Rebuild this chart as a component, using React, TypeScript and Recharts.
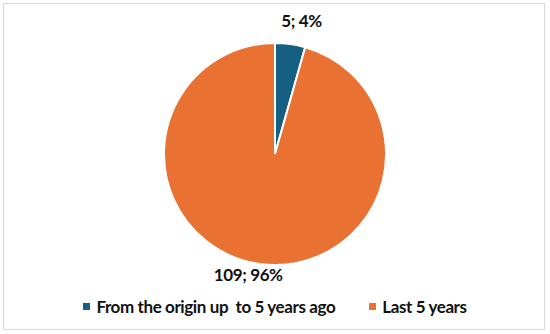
import { PieChart, Pie, Cell, Legend } from 'recharts';

const categories = ['From the origin up  to 5 years ago', 'Last 5 years'];
const counts = [5, 109];
const percentLabels = ['4%', '96%'];
const colors = ['#156082', '#E97132'];

const data = categories.map((name, i) => ({ name, value: counts[i], pct: percentLabels[i] }));

const RADIAN = Math.PI / 180;

const renderLabel = (props: any) => {
  const { cx, cy, midAngle, outerRadius, index } = props;
  const r = outerRadius + (index === 0 ? 24 : 11);
  const x = cx + r * Math.cos(-midAngle * RADIAN) + (index === 0 ? 8 : -10);
  const y = cy + r * Math.sin(-midAngle * RADIAN);
  return (
    <text x={x} y={y} textAnchor="middle" dominantBaseline="central" fill="#111"
      fontSize={17} fontWeight={700} letterSpacing={-0.4} fontFamily="Lato, sans-serif">
      {`${data[index].value}; ${data[index].pct}`}
    </text>
  );
};

const renderLegend = () => (
  <div style={{ display: 'flex', justifyContent: 'center', gap: 34, fontFamily: 'Lato, sans-serif', fontWeight: 700, fontSize: 17, letterSpacing: -0.4, color: '#111' }}>
    {data.map((d, i) => (
      <div key={d.name} style={{ display: 'flex', alignItems: 'center', whiteSpace: 'pre' }}>
        <span style={{ width: 7, height: 7, background: colors[i], marginRight: 6, display: 'inline-block' }} />
        {d.name}
      </div>
    ))}
  </div>
);

export default function App() {
  return (
    <div style={{ position: 'absolute', left: 0, top: 0, width: 550, height: 334, background: '#fff' }}>
      <div style={{ position: 'absolute', left: 3, top: 3, width: 540, height: 325, border: '1.5px solid #d9d9d9' }} />
      <PieChart width={550} height={334} margin={{ top: 0, right: 0, bottom: 0, left: 0 }}>
        <Pie data={data} dataKey="value" nameKey="name" cx={275} cy={154} outerRadius={111}
          startAngle={90} endAngle={-270} stroke="#fff" strokeWidth={2}
          label={renderLabel} labelLine={false} isAnimationActive={false}>
          {data.map((d, i) => <Cell key={d.name} fill={colors[i]} />)}
        </Pie>
        <Legend content={renderLegend} verticalAlign="bottom" wrapperStyle={{ bottom: 17 }} />
      </PieChart>
    </div>
  );
}
